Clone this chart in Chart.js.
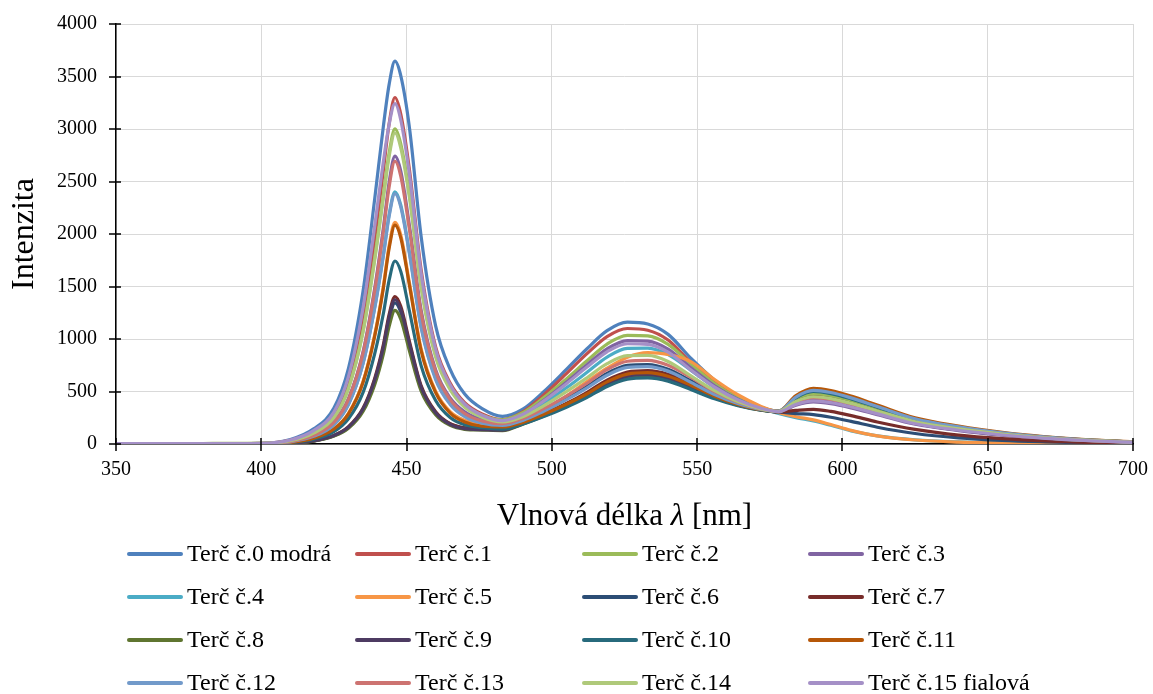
<!DOCTYPE html>
<html>
<head>
<meta charset="utf-8">
<script src="https://cdn.jsdelivr.net/npm/chart.js@4.4.1/dist/chart.umd.min.js"></script>
<style>
  body { margin: 0; background: #fff; }
  #wrap { position: relative; width: 1153px; height: 694px; }
  #chartBox { position: absolute; left: 0; top: 0; width: 1153px; height: 535px; }
  #legend {
    position: absolute; left: 127px; top: 532px;
    display: grid; grid-template-columns: 228px 227px 226px 226px; grid-auto-rows: 43px;
    font: 24px "Liberation Serif", "Times New Roman", serif; color: #000;
  }
  .item { display: flex; align-items: center; white-space: nowrap; }
  .swatch { width: 56px; height: 4px; border-radius: 2px; margin-right: 4px; }
</style>
</head>
<body>
<div id="wrap">
  <div id="chartBox"><canvas id="spectra"></canvas></div>
  <div id="legend"></div>
</div>
<script>
// vlnové délky (nm) – body, ve kterých jsou odečtené intenzity
const wavelengths = [350, 380, 400, 410, 418, 425, 430, 435, 439, 442, 444, 446, 448, 451, 455, 460, 465, 470, 476, 483,
  490, 497, 505, 512, 519, 526, 533, 540, 548, 556, 564, 572, 578, 584, 590, 596, 603, 612, 625, 640, 655, 670, 685, 700];

const xTickValues = [350, 400, 450, 500, 550, 600, 650, 700];
const yTickValues = [0, 500, 1000, 1500, 2000, 2500, 3000, 3500, 4000];

const seriesNames = ["Terč č.0 modrá", "Terč č.1", "Terč č.2", "Terč č.3", "Terč č.4", "Terč č.5", "Terč č.6", "Terč č.7",
  "Terč č.8", "Terč č.9", "Terč č.10", "Terč č.11", "Terč č.12", "Terč č.13", "Terč č.14", "Terč č.15 fialová"];

const seriesColors = ["#4F81BD", "#C0504D", "#9BBB59", "#8064A2", "#4BACC6", "#F79646", "#2C4D75", "#772C2A",
  "#5F7530", "#4D3B62", "#276A7C", "#B65708", "#729ACA", "#CD7371", "#AFC97A", "#A590C7"];

const terc0 = [3, 4, 7, 43, 144, 342, 720, 1452, 2327, 3023, 3425, 3646, 3508, 3010, 1978, 1125, 711, 476, 337, 263,
  332, 493, 710, 905, 1079, 1160, 1143, 1044, 812, 607, 454, 351, 310, 398, 440, 422, 378, 308, 207, 141, 92, 57, 33, 18];
const terc1 = [4, 3, 7, 34, 116, 280, 586, 1183, 1943, 2605, 3051, 3300, 3143, 2611, 1661, 924, 582, 395, 287, 232,
  306, 463, 670, 858, 1023, 1100, 1084, 990, 770, 582, 441, 347, 312, 419, 470, 451, 404, 329, 221, 150, 99, 61, 35, 19];
const terc2 = [3, 5, 6, 31, 105, 254, 532, 1076, 1767, 2369, 2773, 3001, 2858, 2377, 1514, 846, 537, 368, 274, 230,
  298, 437, 620, 790, 952, 1035, 1029, 949, 759, 575, 438, 346, 313, 426, 480, 461, 413, 336, 226, 154, 101, 62, 36, 19];
const terc3 = [2, 4, 4, 24, 84, 211, 432, 875, 1479, 2056, 2493, 2741, 2598, 2077, 1277, 708, 439, 307, 234, 205,
  276, 411, 589, 752, 906, 985, 979, 903, 723, 554, 427, 342, 306, 370, 400, 384, 344, 280, 188, 128, 84, 52, 30, 16];
const terc4 = [3, 3, 4, 21, 73, 184, 378, 768, 1297, 1802, 2185, 2402, 2277, 1823, 1123, 626, 392, 278, 219, 199,
  264, 381, 535, 681, 828, 911, 913, 851, 699, 539, 420, 340, 290, 250, 220, 178, 125, 78, 40, 20, 10, 6, 3, 2];
const terc5 = [2, 4, 2, 16, 55, 143, 291, 592, 1037, 1501, 1890, 2112, 1992, 1532, 908, 503, 308, 226, 184, 177,
  226, 321, 456, 592, 722, 827, 870, 853, 783, 614, 469, 358, 300, 260, 230, 185, 130, 78, 38, 18, 10, 6, 3, 2];
const terc6 = [2, 3, 1, 8, 29, 79, 157, 325, 594, 904, 1183, 1343, 1255, 935, 536, 298, 191, 153, 146, 142,
  213, 308, 429, 547, 673, 749, 757, 713, 600, 480, 390, 330, 305, 290, 280, 255, 215, 160, 100, 58, 34, 20, 10, 5];
const terc7 = [3, 4, 1, 8, 30, 82, 165, 340, 622, 944, 1235, 1404, 1311, 975, 557, 307, 193, 153, 143, 140,
  204, 284, 386, 490, 609, 686, 700, 665, 574, 464, 382, 327, 305, 320, 330, 310, 270, 210, 140, 85, 52, 30, 16, 8];
const terc8 = [2, 3, 1, 7, 27, 75, 149, 309, 563, 856, 1121, 1273, 1190, 885, 506, 279, 177, 140, 133, 128,
  189, 264, 359, 455, 566, 637, 650, 618, 533, 440, 370, 323, 308, 405, 450, 432, 387, 315, 212, 144, 95, 59, 34, 18];
const terc9 = [3, 3, 1, 8, 30, 81, 161, 333, 608, 923, 1209, 1374, 1283, 954, 543, 298, 187, 146, 136, 131,
  193, 268, 364, 462, 574, 647, 660, 627, 541, 445, 372, 324, 306, 384, 420, 403, 361, 294, 197, 134, 88, 55, 32, 17];
const terc10 = [2, 4, 2, 13, 45, 118, 240, 489, 856, 1240, 1560, 1743, 1644, 1264, 747, 414, 252, 183, 155, 142,
  190, 259, 350, 441, 548, 617, 630, 599, 517, 430, 365, 322, 310, 440, 500, 480, 430, 350, 235, 160, 105, 65, 38, 20];
const terc11 = [3, 3, 2, 15, 54, 142, 287, 585, 1023, 1482, 1864, 2084, 1964, 1509, 890, 489, 294, 210, 169, 162,
  206, 280, 378, 476, 592, 666, 680, 646, 558, 455, 377, 326, 314, 461, 530, 509, 456, 371, 249, 170, 111, 69, 40, 21];
const terc12 = [2, 4, 4, 21, 73, 183, 376, 763, 1288, 1789, 2169, 2385, 2259, 1807, 1108, 613, 377, 261, 199, 178,
  225, 309, 422, 533, 655, 729, 737, 694, 585, 471, 386, 329, 313, 447, 510, 490, 439, 357, 240, 163, 107, 66, 38, 20];
const terc13 = [3, 5, 4, 24, 82, 207, 425, 862, 1454, 2021, 2450, 2693, 2551, 2040, 1250, 690, 423, 291, 220, 195,
  244, 335, 457, 576, 708, 788, 797, 750, 632, 499, 400, 333, 309, 398, 440, 422, 378, 308, 207, 141, 92, 57, 33, 18];
const terc14 = [2, 3, 6, 31, 104, 252, 527, 1064, 1745, 2340, 2739, 2962, 2820, 2344, 1489, 827, 518, 350, 254, 210,
  259, 360, 498, 629, 765, 842, 844, 786, 646, 508, 404, 335, 309, 405, 450, 432, 387, 315, 212, 144, 95, 59, 34, 18];
const terc15 = [4, 3, 6, 38, 128, 304, 640, 1292, 2069, 2688, 3045, 3241, 3086, 2564, 1629, 904, 565, 381, 274, 223,
  282, 406, 574, 730, 878, 955, 949, 876, 701, 541, 420, 340, 307, 377, 410, 394, 353, 287, 193, 131, 86, 53, 31, 16];

const seriesValues = [terc0, terc1, terc2, terc3, terc4, terc5, terc6, terc7,
  terc8, terc9, terc10, terc11, terc12, terc13, terc14, terc15];

const FONT = "'Liberation Serif', 'Times New Roman', serif";
Chart.defaults.font.family = FONT;
Chart.defaults.color = "#000";

// ================== osy: křížové značky + popisek osy x (λ kurzívou) ==================
const axisExtras = {
  id: "axisExtras",
  afterDraw(chart) {
    const { ctx, chartArea, scales } = chart;
    ctx.save();
    ctx.strokeStyle = "#000";
    ctx.lineWidth = 1.5;
    ctx.beginPath();
    xTickValues.forEach(v => {
      const px = Math.round(scales.x.getPixelForValue(v));
      ctx.moveTo(px, chartArea.bottom - 6);
      ctx.lineTo(px, chartArea.bottom + 7);
    });
    yTickValues.forEach(v => {
      const py = Math.round(scales.y.getPixelForValue(v));
      ctx.moveTo(chartArea.left - 7, py);
      ctx.lineTo(chartArea.left + 5, py);
    });
    ctx.stroke();

    const parts = [["Vlnová délka ", ""], ["λ", "italic "], [" [nm]", ""]];
    let total = 0;
    parts.forEach(p => { ctx.font = p[1] + "31px " + FONT; total += ctx.measureText(p[0]).width; });
    let x = (chartArea.left + chartArea.right) / 2 - total / 2;
    ctx.fillStyle = "#000";
    ctx.textBaseline = "middle";
    ctx.textAlign = "left";
    parts.forEach(p => {
      ctx.font = p[1] + "31px " + FONT;
      ctx.fillText(p[0], x, 517);
      x += ctx.measureText(p[0]).width;
    });
    ctx.restore();
  },
};

const datasets = seriesValues.map((vals, i) => ({
  label: seriesNames[i],
  data: wavelengths.map((w, j) => ({ x: w, y: vals[j] })),
  borderColor: seriesColors[i],
  backgroundColor: seriesColors[i],
  borderWidth: 3.2,
  pointRadius: 0,
  fill: false,
  cubicInterpolationMode: "monotone",
  order: seriesValues.length - i, // jako v Excelu: poslední série navrchu
}));

new Chart(document.getElementById("spectra"), {
  type: "line",
  data: { datasets },
  plugins: [axisExtras],
  options: {
    animation: false,
    responsive: true,
    maintainAspectRatio: false,
    layout: { padding: { left: 0, top: 24, right: 20, bottom: 0 } },
    plugins: { legend: { display: false }, tooltip: { enabled: false } },
    scales: {
      x: {
        type: "linear",
        min: 350,
        max: 700,
        afterBuildTicks: s => { s.ticks = xTickValues.map(v => ({ value: v })); },
        afterFit: s => { s.height = 91; s.paddingLeft = 0; s.paddingRight = 0; },
        grid: { color: "#D9D9D9", lineWidth: 1, drawTicks: false },
        border: { color: "#000", width: 1.5 },
        ticks: { font: { size: 20 }, color: "#000", padding: 14, maxRotation: 0, callback: v => String(v) },
      },
      y: {
        min: 0,
        max: 4000,
        afterBuildTicks: s => { s.ticks = yTickValues.map(v => ({ value: v })); },
        afterFit: s => { s.width = 116; s.paddingTop = 0; s.paddingBottom = 0; },
        grid: { color: "#D9D9D9", lineWidth: 1, drawTicks: false },
        border: { color: "#000", width: 1.5 },
        ticks: { font: { size: 20 }, color: "#000", padding: 19, callback: v => String(v) },
        title: { display: true, text: "Intenzita", font: { size: 32 }, color: "#000", padding: { top: 5, bottom: 0 } },
      },
    },
  },
});

// ================== legenda (4 sloupce jako v originále) ==================
const legendBox = document.getElementById("legend");
seriesNames.forEach((name, i) => {
  const item = document.createElement("div");
  item.className = "item";
  item.innerHTML = `<span class="swatch" style="background:${seriesColors[i]}"></span><span>${name}</span>`;
  legendBox.appendChild(item);
});
</script>
</body>
</html>
